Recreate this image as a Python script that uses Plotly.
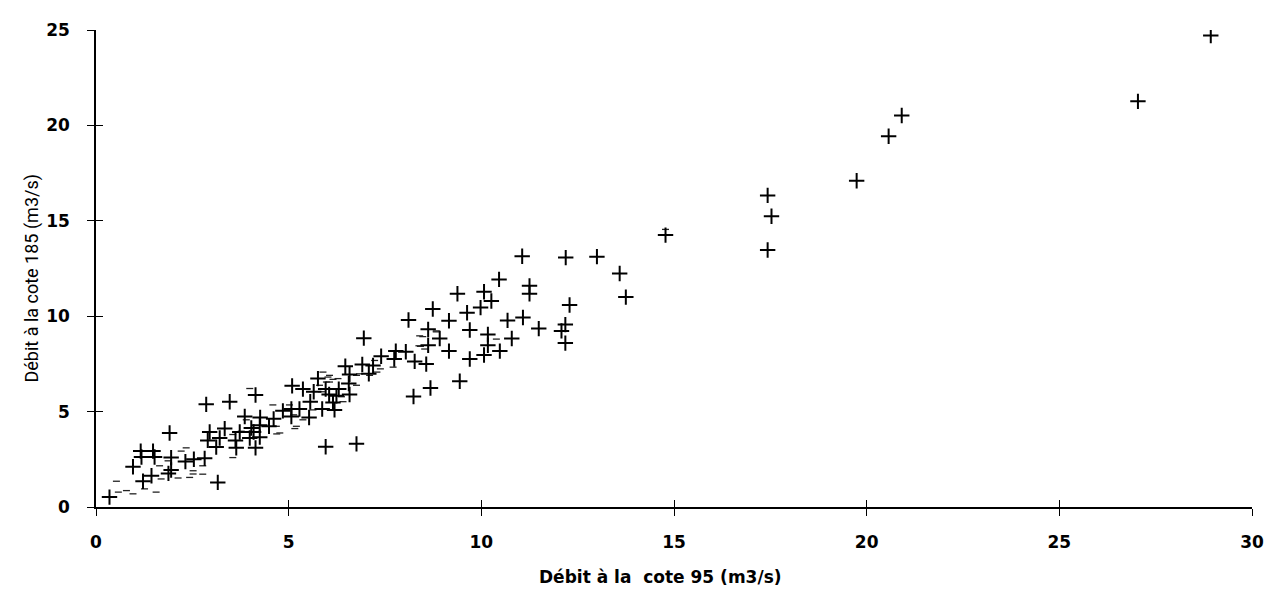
import plotly.graph_objects as go

# Crosses: flow at level 95 (x) vs level 185 (y), m3/s
x_cross = [11.06, 12.19, 10.46, 11.25, 11.25, 9.38, 10.07, 10.26, 12.29, 9.98, 8.74, 9.63, 8.11, 9.16,
           10.68, 11.08, 11.49, 12.18, 12.08, 12.18, 8.62, 9.70, 8.92, 10.17, 10.79, 8.62, 10.17, 10.48,
           10.07, 9.16, 9.70, 7.78, 8.04, 7.74, 8.27, 8.57, 9.44, 8.68, 8.24,
           6.95, 7.40, 6.47, 6.91, 7.19, 6.58, 7.08, 5.76, 5.09, 5.37, 5.65, 5.96, 6.30, 6.56, 6.58, 6.24,
           6.05, 5.56, 6.15, 5.28, 5.87, 6.19, 5.07, 5.07, 5.53, 5.96, 6.76,
           2.86, 3.47, 4.14, 4.85, 3.86, 4.26, 4.61, 4.25, 4.49, 3.34, 3.73, 2.95, 4.09, 2.90, 3.21, 3.62,
           3.99, 4.25, 3.12, 3.64, 4.14,
           1.91, 1.16, 1.48, 1.18, 1.52, 0.96, 1.44, 1.22, 1.95, 2.32, 2.54, 2.82, 1.95, 3.16,
           0.35, 4.03, 1.88,
           13.0, 13.59, 13.75, 14.78, 17.43, 17.53, 17.43, 19.74, 20.57, 20.91, 27.04, 28.93]
y_cross = [13.14, 13.07, 11.93, 11.59, 11.18, 11.18, 11.28, 10.80, 10.59, 10.45, 10.38, 10.18, 9.80, 9.76,
           9.78, 9.93, 9.35, 9.56, 9.23, 8.59, 9.31, 9.28, 8.83, 9.04, 8.83, 8.48, 8.48, 8.17,
           7.97, 8.17, 7.76, 8.17, 8.14, 7.76, 7.63, 7.49, 6.59, 6.24, 5.79,
           8.85, 7.90, 7.38, 7.47, 7.42, 6.95, 6.98, 6.73, 6.35, 6.18, 6.04, 6.18, 6.18, 6.47, 5.90, 5.83,
           5.90, 5.52, 5.48, 5.14, 5.14, 5.09, 5.14, 4.74, 4.69, 3.16, 3.31,
           5.38, 5.52, 5.87, 5.04, 4.74, 4.69, 4.62, 4.28, 4.23, 4.11, 3.93, 3.93, 3.93, 3.49, 3.62, 3.49,
           3.62, 3.66, 3.14, 3.10, 3.10,
           3.88, 2.93, 2.93, 2.62, 2.62, 2.11, 1.64, 1.35, 2.59, 2.38, 2.50, 2.55, 1.94, 1.29,
           0.52, 4.14, 1.76,
           13.12, 12.24, 11.0, 14.25, 16.33, 15.24, 13.47, 17.1, 19.43, 20.52, 21.26, 24.71]

# Faint, partly printed marks along the dense band
x_dash = [0.58, 0.79, 0.96, 1.26, 1.56, 1.69, 1.65, 1.87, 2.21, 2.34, 2.43, 2.77, 2.52, 3.21, 3.55, 3.55,
          3.77, 3.90, 4.59, 4.68, 4.77, 5.20, 5.02, 5.80, 5.98, 6.06, 6.28, 6.76, 7.10, 7.23, 3.99, 6.41,
          2.77, 5.89, 6.02, 6.15, 6.76, 6.84, 7.29, 7.38, 7.71, 8.40, 8.38, 8.83, 6.06, 6.37, 5.63, 5.37,
          5.13, 5.85, 8.48, 8.42, 8.83, 10.39, 8.53, 4.69, 5.16, 0.53, 2.13, 2.52, 14.78]
y_dash = [0.78, 0.86, 0.69, 0.95, 0.78, 1.47, 2.16, 2.42, 2.93, 3.10, 1.55, 2.16, 1.90, 3.62, 2.59, 3.80,
          3.97, 4.57, 5.35, 4.23, 3.88, 4.23, 5.35, 6.38, 6.55, 6.90, 6.73, 6.90, 6.90, 7.68, 6.21, 5.52,
          1.72, 7.07, 6.81, 6.69, 6.38, 6.98, 7.07, 7.24, 7.33, 8.97, 8.45, 9.18, 6.55, 5.78, 5.09, 4.57,
          4.83, 6.04, 8.93, 8.42, 9.23, 8.80, 8.28, 3.83, 4.11, 1.35, 1.52, 1.73, 14.55]

x_ticks = [0, 5, 10, 15, 20, 25, 30]
y_ticks = [0, 5, 10, 15, 20, 25]
x_title = "Débit à la\u00a0 cote 95 (m3/s)"
y_title = "Débit à la cote 185 (m3/s)"

fig = go.Figure()
fig.add_trace(go.Scatter(
    x=x_dash, y=y_dash, mode="markers",
    marker=dict(symbol="line-ew", size=5, line=dict(color="#222222", width=1.3)),
    hoverinfo="skip", showlegend=False))
fig.add_trace(go.Scatter(
    x=x_cross, y=y_cross, mode="markers",
    marker=dict(symbol="cross-thin", size=11, line=dict(color="black", width=2)),
    showlegend=False))
# empty trace on overlay axes so the inward half of each tick renders
fig.add_trace(go.Scatter(x=[None], y=[None], xaxis="x2", yaxis="y2", showlegend=False))

tick_font = dict(family="DejaVu Sans", size=17, color="black", weight="bold")

# page body has an 8px margin, so the figure is sized 8px smaller than the window
fig.update_layout(
    width=1276, height=582,
    margin=dict(l=88, r=32, t=15, b=83),
    paper_bgcolor="white", plot_bgcolor="white",
    xaxis=dict(range=[0, 30], tickvals=x_ticks, ticks="outside", ticklen=7, tickwidth=1,
               tickcolor="black", showline=True, linecolor="black", linewidth=1.6,
               showgrid=False, zeroline=False, tickfont=tick_font, ticklabelstandoff=12),
    yaxis=dict(range=[0, 25], tickvals=y_ticks, ticks="outside", ticklen=7, tickwidth=1,
               tickcolor="black", showline=True, linecolor="black", linewidth=1.6,
               showgrid=False, zeroline=False, tickfont=tick_font, ticklabelstandoff=14),
    xaxis2=dict(range=[0, 30], tickvals=x_ticks, ticks="inside", ticklen=7, tickwidth=1,
                tickcolor="black", overlaying="x", side="bottom", anchor="y2",
                showticklabels=False, showgrid=False, zeroline=False, showline=False),
    yaxis2=dict(range=[0, 25], tickvals=y_ticks, ticks="inside", ticklen=7, tickwidth=1,
                tickcolor="black", overlaying="y", side="left", anchor="x2",
                showticklabels=False, showgrid=False, zeroline=False, showline=False),
    annotations=[
        dict(text=x_title, xref="paper", yref="paper", x=0.488, y=-0.1467,
             xanchor="center", yanchor="middle", showarrow=False,
             font=dict(family="DejaVu Sans", size=17, color="black", weight="bold")),
        dict(text=y_title, xref="paper", yref="paper", x=-0.0562, y=0.479, textangle=-90,
             xanchor="center", yanchor="middle", showarrow=False,
             font=dict(family="Liberation Sans Narrow, Roboto, sans-serif", size=18, color="black")),
    ],
)

fig.write_html("out.html")
